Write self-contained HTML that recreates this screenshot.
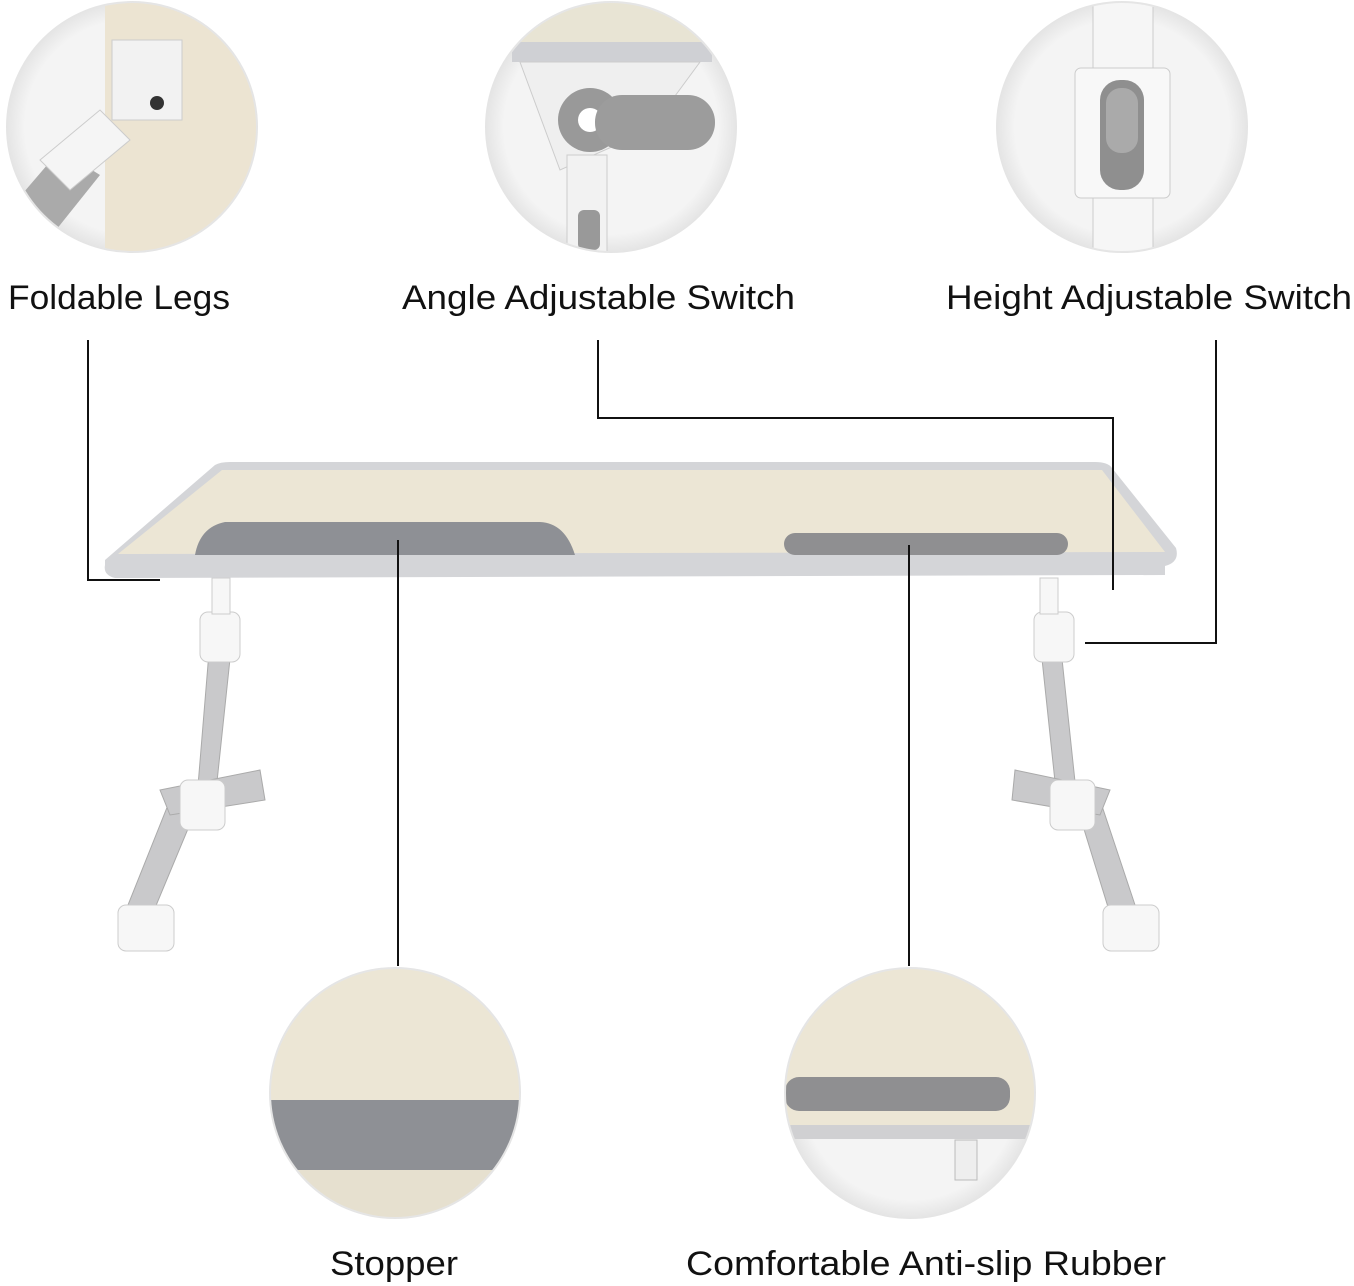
<!DOCTYPE html>
<html><head><meta charset="utf-8"><style>
html,body{margin:0;padding:0;background:#fff;}
svg{display:block}
text{font-family:"Liberation Sans",sans-serif;font-size:34px;fill:#111}
</style></head><body>
<svg width="1354" height="1286" viewBox="0 0 1354 1286" xmlns="http://www.w3.org/2000/svg">
<defs>
<radialGradient id="cg" cx="50%" cy="50%" r="50%"><stop offset="0.85" stop-color="#f4f4f4"/><stop offset="1" stop-color="#e4e4e4"/></radialGradient>
<clipPath id="c1"><circle cx="132" cy="127" r="124"/></clipPath>
<clipPath id="c2"><circle cx="611" cy="127" r="124"/></clipPath>
<clipPath id="c3"><circle cx="1122" cy="127" r="124"/></clipPath>
<clipPath id="c4"><circle cx="395" cy="1093" r="124"/></clipPath>
<clipPath id="c5"><circle cx="910" cy="1093" r="124"/></clipPath>
</defs>
<!-- circle 1 -->
<circle cx="132" cy="127" r="126" fill="url(#cg)"/>
<g clip-path="url(#c1)">
<rect x="105" y="0" width="160" height="260" fill="#ece4d2"/>
<rect x="112" y="40" width="70" height="80" fill="#f2f2f2" stroke="#ccc"/>
<polygon points="0,220 60,150 100,175 40,250" fill="#aaa"/>
<polygon points="40,160 100,110 130,140 70,190" fill="#f5f5f5" stroke="#ccc"/>
<circle cx="157" cy="103" r="7" fill="#333"/>
</g>
<!-- circle 2 -->
<circle cx="611" cy="127" r="126" fill="url(#cg)"/>
<g clip-path="url(#c2)">
<rect x="480" y="0" width="260" height="42" fill="#e8e4d4"/>
<rect x="512" y="42" width="200" height="20" fill="#cfd0d4"/>
<polygon points="520,62 700,62 650,130 560,170" fill="#efefef" stroke="#ccc"/>
<circle cx="590" cy="120" r="32" fill="#999"/>
<circle cx="590" cy="120" r="12" fill="#fff"/>
<rect x="595" y="95" width="120" height="55" rx="27" fill="#9c9c9c"/>
<rect x="567" y="155" width="40" height="100" fill="#f2f2f2" stroke="#ccc"/>
<rect x="578" y="210" width="22" height="40" rx="6" fill="#999"/>
</g>
<!-- circle 3 -->
<circle cx="1122" cy="127" r="126" fill="url(#cg)"/>
<g clip-path="url(#c3)">
<rect x="1093" y="0" width="60" height="260" fill="#f6f6f6" stroke="#ccc"/>
<rect x="1075" y="68" width="95" height="130" rx="6" fill="#f8f8f8" stroke="#ccc"/>
<rect x="1100" y="80" width="44" height="110" rx="20" fill="#8f8f8f"/>
<rect x="1106" y="88" width="32" height="65" rx="15" fill="#aaa"/>
</g>
<!-- labels -->
<text x="8" y="309" textLength="222" lengthAdjust="spacingAndGlyphs">Foldable Legs</text>
<text x="402" y="309" textLength="393" lengthAdjust="spacingAndGlyphs">Angle Adjustable Switch</text>
<text x="946" y="309" textLength="406" lengthAdjust="spacingAndGlyphs">Height Adjustable Switch</text>
<text x="330" y="1275" textLength="128" lengthAdjust="spacingAndGlyphs">Stopper</text>
<text x="686" y="1275" textLength="480" lengthAdjust="spacingAndGlyphs">Comfortable Anti-slip Rubber</text>
<!-- legs -->
<g fill="#c9c9cb" stroke="#aaa" stroke-width="1">
<polygon points="210,640 232,640 214,810 196,810"/>
<polygon points="1040,640 1060,640 1078,810 1058,810"/>
<polygon points="170,800 200,800 150,920 122,920"/>
<polygon points="1075,800 1100,800 1140,920 1112,920"/>
<polygon points="160,790 260,770 265,800 170,815"/>
<polygon points="1015,770 1110,790 1100,815 1012,800"/>
</g>
<g fill="#f7f7f7" stroke="#ccc">
<rect x="200" y="612" width="40" height="50" rx="8"/>
<rect x="1034" y="612" width="40" height="50" rx="8"/>
<rect x="180" y="780" width="45" height="50" rx="8"/>
<rect x="1050" y="780" width="45" height="50" rx="8"/>
<rect x="118" y="905" width="56" height="46" rx="8"/>
<rect x="1103" y="905" width="56" height="46" rx="8"/>
<rect x="212" y="578" width="18" height="36"/>
<rect x="1040" y="578" width="18" height="36"/>
</g>
<!-- table -->
<path d="M105,560 L215,465 Q220,462 230,462 L1095,462 Q1108,462 1112,468 L1176,548 Q1180,562 1165,566 L1165,575 L115,578 Q103,575 105,565 Z" fill="#d4d5d8"/>
<path d="M118,554 L222,470 L1102,470 L1165,552 Z" fill="#ece6d5"/>
<path d="M195,555 Q200,527 225,522 L540,522 Q565,523 575,555 Z" fill="#8e9095"/>
<rect x="784" y="533" width="284" height="22" rx="11" fill="#8f8f91"/>
<!-- connectors -->
<g fill="none" stroke="#111" stroke-width="2">
<polyline points="88,340 88,580 160,580"/>
<polyline points="598,340 598,418 1113,418 1113,590"/>
<polyline points="1216,340 1216,643 1085,643"/>
<line x1="398" y1="540" x2="398" y2="966"/>
<line x1="909" y1="545" x2="909" y2="966"/>
</g>
<!-- bottom circles -->
<circle cx="395" cy="1093" r="126" fill="url(#cg)"/>
<g clip-path="url(#c4)">
<rect x="260" y="960" width="270" height="140" fill="#ece6d5"/>
<rect x="260" y="1100" width="270" height="70" fill="#8e9095"/>
<rect x="260" y="1170" width="270" height="60" fill="#e6e0cf"/>
</g>
<circle cx="910" cy="1093" r="126" fill="url(#cg)"/>
<g clip-path="url(#c5)">
<rect x="780" y="960" width="270" height="165" fill="#ece6d5"/>
<rect x="785" y="1077" width="225" height="34" rx="14" fill="#8f8f91"/>
<rect x="780" y="1125" width="270" height="14" fill="#d0d0d2"/>
<rect x="955" y="1140" width="22" height="40" fill="#eee" stroke="#bbb"/>
</g>
</svg>
</body></html>
